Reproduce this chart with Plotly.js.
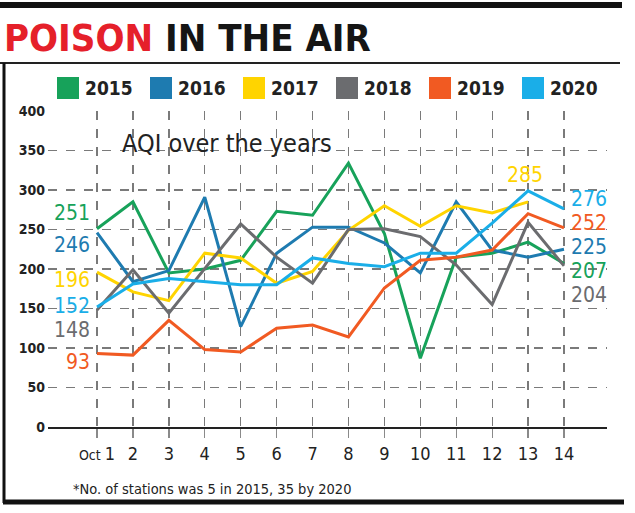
<!DOCTYPE html>
<html>
<head>
<meta charset="utf-8">
<script src="https://cdn.plot.ly/plotly-3.0.1.min.js"></script>
<style>
  html, body { margin: 0; padding: 0; background: #fff; }
  #chart { width: 635px; height: 513px; }
</style>
</head>
<body>
<div id="chart"></div>
<script>
// ---- data ----
const days = [1, 2, 3, 4, 5, 6, 7, 8, 9, 10, 11, 12, 13, 14];
const dayLabels = ['Oct 1', '2', '3', '4', '5', '6', '7', '8', '9', '10', '11', '12', '13', '14'];
const years = ['2015', '2016', '2017', '2018', '2019', '2020'];
const aqi2015 = [251, 285, 195, 200, 211, 273, 268, 334, 245, 87, 215, 220, 234, 207];
const aqi2016 = [246, 184, 198, 291, 127, 220, 253, 253, 233, 195, 285, 224, 215, 225];
const aqi2017 = [196, 171, 160, 220, 214, 182, 197, 249, 280, 254, 280, 271, 285];
const aqi2018 = [148, 199, 144, 200, 257, 215, 182, 250, 251, 241, 205, 155, 259, 204];
const aqi2019 = [93, 91, 135, 98, 95, 125, 129, 114, 176, 211, 215, 224, 270, 252];
const aqi2020 = [152, 181, 188, 184, 180, 180, 214, 207, 203, 220, 220, 258, 299, 276];
const yTicks = [0, 50, 100, 150, 200, 250, 300, 350, 400];

// ---- styles ----
const colors = ['#17a25a', '#1e7bb0', '#ffd400', '#6b6c6f', '#f15a22', '#1aaee8'];
const series = [aqi2015, aqi2016, aqi2017, aqi2018, aqi2019, aqi2020];
const narrow = 'DejaVu Sans Condensed, Liberation Sans Narrow, Roboto, sans-serif';

// label offsets (pixels) for start / end labels, in year order
const startShift = [16, -12, -8, -20, -8, 1];
const endShift = [-8, 2, 27, -29, 5, 10];

// plot area in pixels
const L = 48, R = 607, T = 111, B = 427;
const px = p => (p - L) / (R - L);
const py = p => (B - p) / (B - T);

const traces = series.map((vals, i) => ({
  type: 'scatter',
  mode: 'lines',
  x: days.slice(0, vals.length),
  y: vals,
  name: years[i],
  line: { color: colors[i], width: 3 },
  showlegend: false,
  hoverinfo: 'x+y+name'
}));

const shapes = [
  { type: 'rect', xref: 'paper', yref: 'paper', x0: px(0), x1: px(622), y0: py(2), y1: py(8), fillcolor: '#111', line: { width: 0 } },
  { type: 'line', xref: 'paper', yref: 'paper', x0: px(0), x1: px(620), y0: py(63), y1: py(63), line: { color: '#222', width: 2 } },
  { type: 'line', xref: 'paper', yref: 'paper', x0: px(4), x1: px(4), y0: py(63), y1: py(503), line: { color: '#111', width: 3 } },
  { type: 'line', xref: 'paper', yref: 'paper', x0: px(3), x1: px(624), y0: py(502), y1: py(502), line: { color: '#111', width: 5 } }
];

const annotations = [];
years.forEach((yr, i) => {
  const x0 = 57 + 93 * i;
  shapes.push({ type: 'rect', xref: 'paper', yref: 'paper', x0: px(x0), x1: px(x0 + 22), y0: py(77), y1: py(99), fillcolor: colors[i], line: { width: 0 } });
  annotations.push({ xref: 'paper', yref: 'paper', x: px(x0 + 26), y: py(88), xanchor: 'left', yanchor: 'middle', text: yr, showarrow: false,
    font: { family: narrow, size: 19, color: '#222', weight: 'bold' } });
});

// start / end value labels
series.forEach((vals, i) => {
  annotations.push({ x: days[0], y: vals[0], xref: 'x', yref: 'y', text: String(vals[0]), showarrow: false,
    xanchor: 'right', yanchor: 'middle', xshift: -5, yshift: startShift[i],
    font: { family: narrow, size: 21, color: colors[i] } });
  const last = vals.length - 1;
  const isShort = vals.length < days.length;
  annotations.push({ x: days[last], y: vals[last], xref: 'x', yref: 'y', text: String(vals[last]), showarrow: false,
    xanchor: isShort ? 'center' : 'left', yanchor: 'middle', xshift: isShort ? -3 : 5, yshift: endShift[i],
    font: { family: narrow, size: 21, color: colors[i] } });
});

annotations.push({ xref: 'paper', yref: 'paper', x: px(120), y: py(143), xanchor: 'left', yanchor: 'middle',
  text: 'AQI over the years', showarrow: false, font: { family: narrow, size: 25, color: '#222' } });
annotations.push({ xref: 'paper', yref: 'paper', x: px(71), y: py(489), xanchor: 'left', yanchor: 'middle',
  text: '*No. of stations was 5 in 2015, 35 by 2020', showarrow: false, font: { family: narrow, size: 14.5, color: '#222' } });

const tickText = dayLabels.map(t => t.startsWith('Oct') ? "<span style='font-size:14px'>Oct </span>" + t.slice(4) : t);

const layout = {
  width: 635, height: 513,
  margin: { l: L, r: 635 - R, t: T, b: 513 - B, pad: 0 },
  paper_bgcolor: '#fff', plot_bgcolor: '#fff',
  showlegend: false,
  title: {
    text: "<span style='color:#e5202a'>POISON</span> IN THE AIR",
    xref: 'container', yref: 'container', x: 4 / 635, xanchor: 'left', y: 1 - 38 / 513, yanchor: 'middle',
    font: { family: narrow, size: 38, color: '#151515', weight: 'bold' }
  },
  xaxis: {
    range: [1 - (97 - L) / 35.92, 14 + (R - 564) / 35.92],
    tickmode: 'array', tickvals: days, ticktext: tickText,
    showgrid: true, gridcolor: '#7a7a7a', gridwidth: 1.3, griddash: 'dash',
    showline: true, linecolor: '#222', linewidth: 2,
    ticks: 'outside', ticklen: 9, tickcolor: '#8a8a8a', tickwidth: 1.3,
    zeroline: false,
    tickfont: { family: narrow, size: 18, color: '#222' },
    fixedrange: true
  },
  yaxis: {
    range: [0, 400],
    tickmode: 'array', tickvals: yTicks,
    showgrid: true, gridcolor: '#7a7a7a', gridwidth: 1.3, griddash: 'dash',
    showline: false, zeroline: false, ticks: '',
    ticklabelstandoff: 2,
    tickfont: { family: narrow, size: 14, color: '#222', weight: 'bold' },
    fixedrange: true
  },
  shapes: shapes,
  annotations: annotations
};

Plotly.newPlot('chart', traces, layout, { displayModeBar: false, staticPlot: true });
</script>
</body>
</html>
